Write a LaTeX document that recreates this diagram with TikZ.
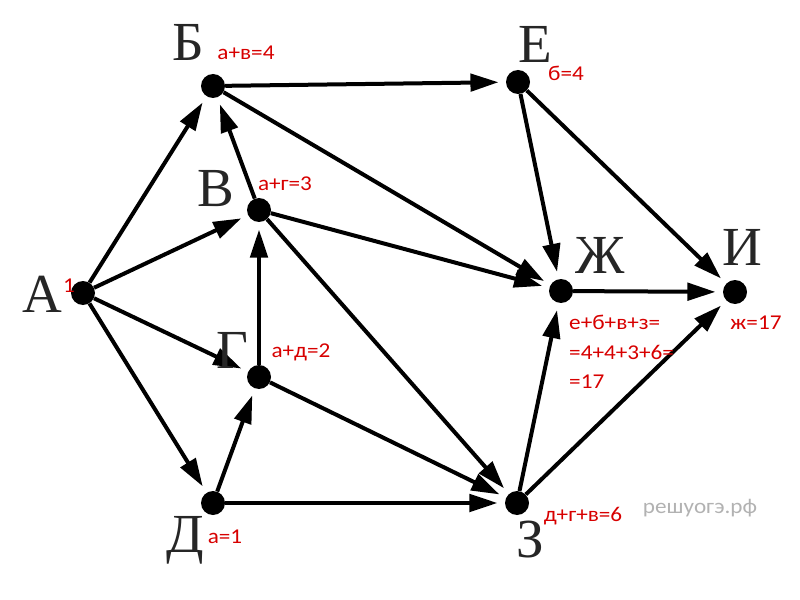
\documentclass[tikz,border=0pt]{standalone}
\usepackage{fontspec}
\setmainfont{Liberation Serif}
\newfontfamily\notefont[FakeStretch=1.1]{Carlito}
\usetikzlibrary{arrows.meta}
\usetikzlibrary{positioning}
\definecolor{notered}{RGB}{215,0,0}

\begin{document}
\begin{tikzpicture}[x=0.3mm, y=-0.3mm,
    vertex/.style={circle, fill=black, inner sep=0pt, minimum size=7.2mm},
    edge/.style={line width=1.2mm, shorten >=2.2mm, -{Triangle[length=8.4mm, width=5.2mm]}},
    letter/.style={text=black!85, inner sep=0pt, font=\fontsize{47}{47}\selectfont},
    note/.style={text=notered, inner sep=0pt, font=\notefont\fontsize{18}{25}\selectfont}]

    \useasboundingbox (0,0) rectangle (800,600);

    % vertices
    \node[vertex] (A) at (83,293) {};
    \node[vertex] (B) at (213,86) {};
    \node[vertex] (V) at (259,210) {};
    \node[vertex] (G) at (259,377) {};
    \node[vertex] (D) at (213,503) {};
    \node[vertex] (E) at (518,82) {};
    \node[vertex] (Zh) at (561,291) {};
    \node[vertex] (Z) at (517,503) {};
    \node[vertex] (I) at (735,292) {};

    % edges
    \foreach \s/\t in {A/B, A/V, A/G, A/D, B/E, B/Zh, V/B, V/Zh, V/Z,
                       G/V, G/Z, D/G, D/Z, E/Zh, E/I, Zh/I, Z/Zh, Z/I}
        \draw[edge] (\s) -- (\t);

    % names
    \node[letter] (lA) at (42,294) {А};
    \node[letter] (lB) at (188,42) {Б};
    \node[letter] (lV) at (216,189) {В};
    \node[letter] (lG) at (232,350) {Г};
    \node[letter] (lD) at (185,540) {Д};
    \node[letter] (lE) at (535,44) {Е};
    \node[letter] (lZh) at (600,255) {Ж};
    \node[letter] (lZ) at (530,540) {З};
    \node[letter] (lI) at (742,247) {И};

    % sums
    \node[note] (nA) at (69,286) {1};
    \node[note] (nB) at (246,53) {а+в=4};
    \node[note] (nE) at (566,73) {б=4};
    \node[note] (nV) at (285,184) {а+г=3};
    \node[note] (nG) at (301,352) {а+д=2};
    \node[note] (nD) at (225,537) {а=1};
    \node[note] (nZ) at (583,516) {д+г+в=6};
    \node[note] (nI) at (756,323) {ж=17};
    \node[note, align=left, anchor=west] (nZh) at (569,352) {е+б+в+з=\\=4+4+3+6=\\=17};

    \node[text=black!30, inner sep=0pt, font=\notefont\fontsize{18}{18}\selectfont] (mark) at (700,508) {решуогэ.рф};
\end{tikzpicture}
\end{document}
